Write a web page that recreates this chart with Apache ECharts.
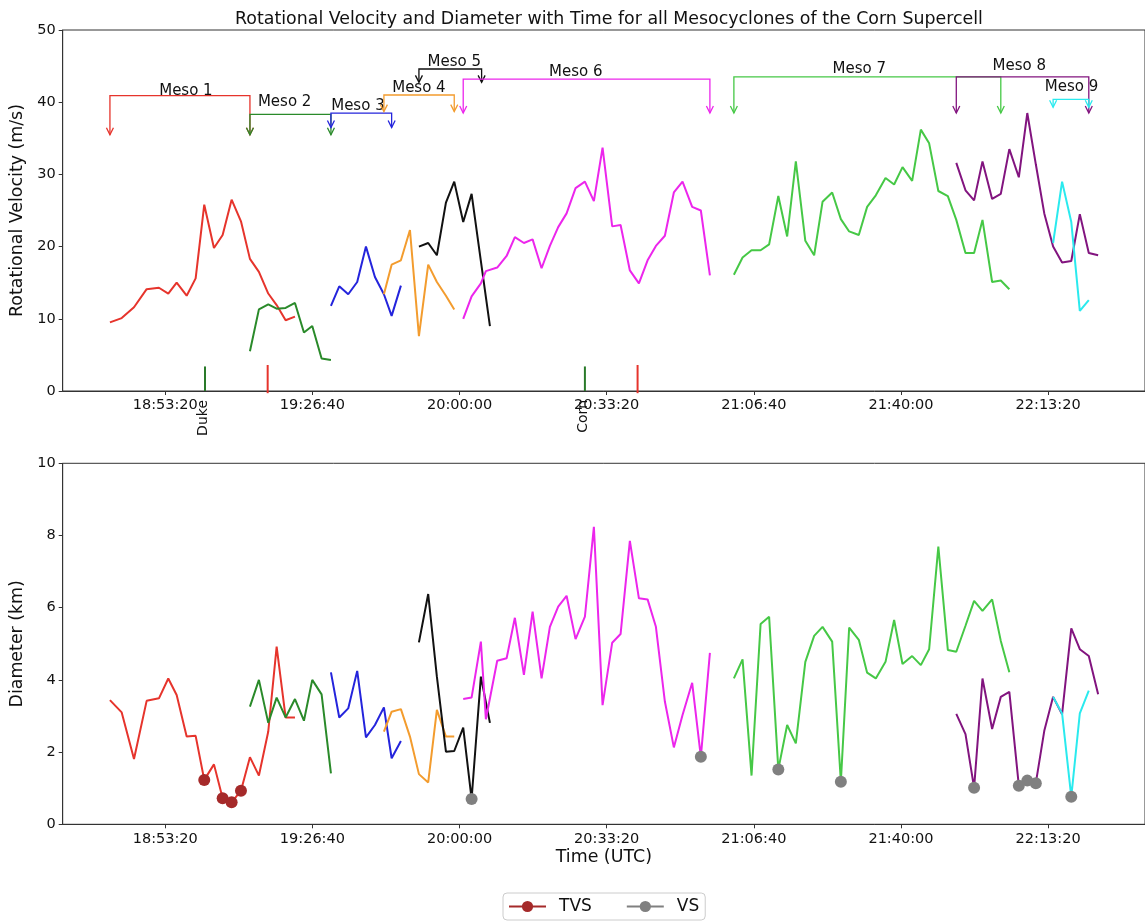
<!DOCTYPE html>
<html>
<head>
<meta charset="utf-8">
<script src="https://cdn.jsdelivr.net/npm/echarts@6/dist/echarts.min.js"></script>
<style>
html,body{margin:0;padding:0;background:#fff;}
#chart{width:1145px;height:922px;}
</style>
</head>
<body>
<div id="chart"></div>
<script>
// ---------------- DATA ----------------
const xTickLabels = ['18:53:20','19:26:40','20:00:00','20:33:20','21:06:40','21:40:00','22:13:20'];
const xRange = ['18:30:06','22:35:17'];

const mesoNames = ['Meso 1','Meso 2','Meso 3','Meso 4','Meso 5','Meso 6','Meso 7','Meso 8','Meso 9'];

const meso1Time = ['18:40:48','18:43:28','18:46:15','18:49:07','18:51:54','18:54:01','18:55:55','18:58:11','19:00:13','19:02:10','19:04:22','19:06:20','19:08:22','19:10:29','19:12:31','19:14:33','19:16:40','19:18:34','19:20:36','19:22:43'];
const meso1Vrot = [9.5,10.1,11.6,14.1,14.3,13.5,15.0,13.2,15.6,25.8,19.8,21.6,26.5,23.5,18.3,16.5,13.5,11.9,9.8,10.3];
const meso1Diam = [3.44,3.10,1.81,3.42,3.49,4.04,3.58,2.43,2.45,1.23,1.66,0.72,0.61,0.93,1.86,1.35,2.57,4.92,2.96,2.96];

const meso2Time = ['19:12:31','19:14:33','19:16:40','19:18:34','19:20:36','19:22:43','19:24:45','19:26:38','19:28:45','19:30:52'];
const meso2Vrot = [5.5,11.3,12.0,11.4,11.5,12.2,8.1,9.0,4.5,4.3];
const meso2Diam = [3.26,4.00,2.81,3.51,2.96,3.47,2.87,4.00,3.60,1.41];

const meso3Time = ['19:30:52','19:32:45','19:34:47','19:36:49','19:38:48','19:40:50','19:42:52','19:44:37','19:46:43'];
const meso3Vrot = [11.8,14.5,13.4,15.1,20.0,15.8,13.4,10.4,14.6];
const meso3Diam = [4.21,2.96,3.21,4.25,2.41,2.75,3.24,1.83,2.31];

const meso4Time = ['19:42:52','19:44:37','19:46:43','19:48:46','19:50:48','19:52:54','19:54:52','19:56:55','19:58:48'];
const meso4Vrot = [13.4,17.5,18.1,22.3,7.6,17.5,15.1,13.2,11.3];
const meso4Diam = [2.57,3.12,3.19,2.43,1.39,1.16,3.17,2.43,2.43];

const meso5Time = ['19:50:48','19:52:54','19:54:52','19:56:55','19:58:48','20:00:50','20:02:44','20:04:50','20:06:53'];
const meso5Vrot = [20.0,20.5,18.8,26.1,29.0,23.4,27.3,18.0,9.0];
const meso5Diam = [5.04,6.38,4.09,2.01,2.03,2.68,0.70,4.09,2.81];

const meso6Time = ['20:00:50','20:02:44','20:04:50','20:05:58','20:08:32','20:10:40','20:12:32','20:14:35','20:16:33','20:18:35','20:20:28','20:22:21','20:24:15','20:26:17','20:28:24','20:30:26','20:32:24','20:34:35','20:36:29','20:38:35','20:40:38','20:42:36','20:44:29','20:46:31','20:48:33','20:50:31','20:52:42','20:54:40','20:56:43'];
const meso6Vrot = [10.0,13.1,14.9,16.6,17.1,18.7,21.3,20.5,21.0,17.0,20.1,22.7,24.6,28.1,29.0,26.3,33.7,22.8,23.0,16.7,14.9,18.1,20.1,21.5,27.5,29.0,25.5,25.0,16.0];
const meso6Diam = [3.47,3.51,5.06,2.91,4.53,4.60,5.72,4.14,5.89,4.04,5.47,6.03,6.33,5.13,5.75,8.24,3.30,5.03,5.27,7.85,6.26,6.23,5.47,3.40,2.13,3.03,3.92,1.87,4.75];

const meso7Time = ['21:02:09','21:04:07','21:06:09','21:08:12','21:10:08','21:12:13','21:14:13','21:16:11','21:18:20','21:20:20','21:22:14','21:24:25','21:26:23','21:28:16','21:30:27','21:32:20','21:34:18','21:36:30','21:38:27','21:40:21','21:42:32','21:44:30','21:46:23','21:48:28','21:50:37','21:52:32','21:54:37','21:56:34','21:58:28','22:00:39','22:02:37','22:04:33'];
const meso7Vrot = [16.1,18.5,19.5,19.5,20.3,27.0,21.4,31.8,20.8,18.8,26.2,27.5,23.8,22.1,21.6,25.5,27.1,29.5,28.6,31.0,29.1,36.2,34.3,27.7,27.0,23.7,19.1,19.1,23.7,15.1,15.3,14.1];
const meso7Diam = [4.04,4.57,1.35,5.55,5.75,1.52,2.75,2.24,4.50,5.22,5.47,5.06,1.18,5.45,5.11,4.20,4.04,4.50,5.66,4.44,4.66,4.41,4.85,7.69,4.83,4.78,5.50,6.19,5.91,6.23,5.08,4.21];

const meso8Time = ['21:52:32','21:54:37','21:56:34','21:58:28','22:00:39','22:02:37','22:04:33','22:06:42','22:08:37','22:10:33','22:12:28','22:14:28','22:16:30','22:18:35','22:20:31','22:22:33','22:24:40'];
const meso8Vrot = [31.6,27.8,26.4,31.8,26.6,27.3,33.5,29.6,38.5,31.4,24.6,20.0,17.8,18.0,24.5,19.1,18.8];
const meso8Diam = [3.06,2.50,1.01,4.04,2.64,3.53,3.67,1.07,1.21,1.14,2.59,3.53,3.05,5.43,4.85,4.66,3.60];

const meso9Time = ['22:14:28','22:16:30','22:18:35','22:20:31','22:22:33'];
const meso9Vrot = [20.5,29.0,23.4,11.1,12.6];
const meso9Diam = [3.53,3.07,0.76,3.07,3.70];

// TVS / VS detections (diameter panel)
const tvsTime = ['19:02:10','19:06:20','19:08:22','19:10:29'];
const tvsDiam = [1.23,0.72,0.61,0.93];
const vsTime = ['20:02:44','20:54:40','21:12:13','21:26:23','21:56:34','22:06:42','22:08:37','22:10:33','22:18:35'];
const vsDiam = [0.70,1.87,1.52,1.18,1.01,1.07,1.21,1.14,0.76];

// Meso lifetime brackets (top panel annotation)
const bracketStart = ['18:40:48','19:12:31','19:30:52','19:42:52','19:50:48','20:00:50','21:02:09','21:52:32','22:14:28'];
const bracketEnd   = ['19:12:31','19:30:52','19:44:37','19:58:48','20:05:00','20:56:43','22:02:37','22:22:33','22:22:33'];
const bracketTip   = [35.5,35.5,36.5,38.7,42.75,38.5,38.5,38.5,39.3];
const bracketBar   = [40.9,38.3,38.5,41.0,44.6,43.2,43.5,43.5,40.4];
const labelTime    = ['18:58:01','19:20:23','19:36:59','19:50:48','19:58:48','20:26:21','21:30:34','22:06:49','22:18:38'];
const labelVal     = [41.55,40.07,39.47,42.0,45.6,44.14,44.6,45.06,42.06];

// Event markers (top panel, bottom edge)
const eventTime  = ['19:02:20','19:16:32','20:28:24','20:40:20'];
const eventTop   = [3.4,3.6,3.4,3.6];
const eventBot   = [0,-0.3,0,-0.3];
const eventLabel = ['Duke','','Corn',''];
const eventKind  = [0,1,0,1];

// ---------------- STYLE ----------------
const mesoColors = ['#e6342c','#2a8a2a','#2424dc','#f39c2e','#111111','#ec26ec','#46c846','#82147f','#2aeaee'];
const eventColors = ['#2a7a2a','#e6342c'];
const FONT = 'DejaVu Sans';

const secs = t => { const p = t.split(':').map(Number); return p[0]*3600 + p[1]*60 + p[2]; };
const clock = v => { v = Math.round(v); const h = Math.floor(v/3600), m = Math.floor(v%3600/60), s = v%60;
  return [h,m,s].map(n => String(n).padStart(2,'0')).join(':'); };
const zip = (ts, vs) => ts.map((t,i) => [secs(t), vs[i]]);

const mesos = [
  [meso1Time, meso1Vrot, meso1Diam],[meso2Time, meso2Vrot, meso2Diam],[meso3Time, meso3Vrot, meso3Diam],
  [meso4Time, meso4Vrot, meso4Diam],[meso5Time, meso5Vrot, meso5Diam],[meso6Time, meso6Vrot, meso6Diam],
  [meso7Time, meso7Vrot, meso7Diam],[meso8Time, meso8Vrot, meso8Diam],[meso9Time, meso9Vrot, meso9Diam]
];

const tickVals = xTickLabels.map(secs);
const GL = 62.7, GW = 1082.5;

function xAxisCfg(idx, withName) {
  return {
    type: 'value', gridIndex: idx, min: secs(xRange[0]), max: secs(xRange[1]),
    axisLine: { show: true, lineStyle: { color: '#333', width: 1 } },
    axisTick: { show: true, length: 4, customValues: tickVals, lineStyle: { color: '#333' } },
    axisLabel: { customValues: tickVals, formatter: clock, color: '#111', fontSize: 14.5, fontFamily: FONT, margin: 7 },
    splitLine: { show: false },
    name: withName ? 'Time (UTC)' : '', nameLocation: 'middle', nameGap: 25,
    nameTextStyle: { fontSize: 17.4, fontFamily: FONT, color: '#111' }
  };
}
function yAxisCfg(idx, max, interval, name, gap) {
  return {
    type: 'value', gridIndex: idx, min: 0, max: max, interval: interval,
    axisLine: { show: true, lineStyle: { color: '#333', width: 1 } },
    axisTick: { show: true, length: 4, lineStyle: { color: '#333' } },
    axisLabel: { color: '#111', fontSize: 14.5, fontFamily: FONT, margin: 7 },
    splitLine: { show: false },
    name: name, nameLocation: 'middle', nameGap: gap,
    nameTextStyle: { fontSize: 17.4, fontFamily: FONT, color: '#111' }
  };
}

const series = [];
mesos.forEach((m, i) => {
  series.push({ name: mesoNames[i] + ' Vrot', type: 'line', xAxisIndex: 0, yAxisIndex: 0, data: zip(m[0], m[1]),
    symbol: 'none', lineStyle: { color: mesoColors[i], width: 2 }, z: 3 });
  series.push({ name: mesoNames[i] + ' Diam', type: 'line', xAxisIndex: 1, yAxisIndex: 1, data: zip(m[0], m[2]),
    symbol: 'none', lineStyle: { color: mesoColors[i], width: 2 }, z: 3 });
});

// brackets with arrows & labels
series.push({
  type: 'custom', xAxisIndex: 0, yAxisIndex: 0, z: 5, silent: true,
  data: bracketStart.map((s, i) => [secs(s), secs(bracketEnd[i]), bracketTip[i], bracketBar[i], i, secs(labelTime[i]), labelVal[i]]),
  encode: { x: [0, 1, 5], y: [2, 3, 6] },
  renderItem: function (params, api) {
    const i = api.value(4);
    const a = api.coord([api.value(0), api.value(2)]);
    const b = api.coord([api.value(0), api.value(3)]);
    const c = api.coord([api.value(1), api.value(3)]);
    const d = api.coord([api.value(1), api.value(2)]);
    const lp = api.coord([api.value(5), api.value(6)]);
    const col = mesoColors[i];
    const st = { stroke: col, lineWidth: 1.3, fill: null };
    const head = p => ({ type: 'polyline', shape: { points: [[p[0]-3.5, p[1]-7], p, [p[0]+3.5, p[1]-7]] }, style: st });
    return { type: 'group', children: [
      { type: 'polyline', shape: { points: [a, b, c, d] }, style: st },
      head(a), head(d),
      { type: 'text', x: lp[0], y: lp[1], style: { text: mesoNames[i], align: 'center', verticalAlign: 'middle',
        font: '15px "DejaVu Sans"', fill: '#111' } }
    ]};
  }
});

// event tick marks with labels
series.push({
  type: 'custom', xAxisIndex: 0, yAxisIndex: 0, z: 4, silent: true, clip: false,
  data: eventTime.map((t, i) => [secs(t), eventBot[i], eventTop[i], i]),
  encode: { x: 0, y: [1, 2] },
  renderItem: function (params, api) {
    const i = api.value(3);
    const p0 = api.coord([api.value(0), api.value(1)]);
    const p1 = api.coord([api.value(0), api.value(2)]);
    const base = api.coord([api.value(0), 0]);
    const ch = [{ type: 'line', shape: { x1: p0[0], y1: p0[1], x2: p1[0], y2: p1[1] },
      style: { stroke: eventColors[eventKind[i]], lineWidth: 2 } }];
    if (eventLabel[i]) {
      ch.push({ type: 'text', x: base[0] - 1.5, y: base[1] + 9, rotation: Math.PI / 2,
        style: { text: eventLabel[i], align: 'right', verticalAlign: 'middle', font: '14px "DejaVu Sans"', fill: '#111' } });
    }
    return { type: 'group', children: ch };
  }
});

// TVS / VS markers
series.push({ name: 'TVS pts', type: 'scatter', xAxisIndex: 1, yAxisIndex: 1, data: zip(tvsTime, tvsDiam),
  symbol: 'circle', symbolSize: 12, itemStyle: { color: '#a52a2a', opacity: 1 }, z: 6 });
series.push({ name: 'VS pts', type: 'scatter', xAxisIndex: 1, yAxisIndex: 1, data: zip(vsTime, vsDiam),
  symbol: 'circle', symbolSize: 12, itemStyle: { color: '#808080', opacity: 1 }, z: 6 });
// legend proxies
series.push({ name: 'TVS', type: 'line', xAxisIndex: 1, yAxisIndex: 1, data: [], symbol: 'circle', symbolSize: 11,
  itemStyle: { color: '#a52a2a' }, lineStyle: { color: '#a52a2a', width: 1.5 } });
series.push({ name: 'VS', type: 'line', xAxisIndex: 1, yAxisIndex: 1, data: [], symbol: 'circle', symbolSize: 11,
  itemStyle: { color: '#808080' }, lineStyle: { color: '#808080', width: 1.5 } });

const chart = echarts.init(document.getElementById('chart'), null, { renderer: 'canvas' });
chart.setOption({
  animation: false,
  backgroundColor: '#ffffff',
  textStyle: { fontFamily: FONT },
  title: { text: 'Rotational Velocity and Diameter with Time for all Mesocyclones of the Corn Supercell',
    left: GL + GW / 2, textAlign: 'center', top: 6,
    textStyle: { fontSize: 17.4, fontWeight: 'normal', fontFamily: FONT, color: '#111' } },
  grid: [
    { left: GL, width: GW, top: 30, height: 361, show: true, borderColor: '#333', borderWidth: 1, backgroundColor: 'transparent' },
    { left: GL, width: GW, top: 463.3, height: 361, show: true, borderColor: '#333', borderWidth: 1, backgroundColor: 'transparent' }
  ],
  xAxis: [xAxisCfg(0, false), xAxisCfg(1, true)],
  yAxis: [yAxisCfg(0, 50, 10, 'Rotational Velocity (m/s)', 35), yAxisCfg(1, 10, 2, 'Diameter (km)', 35)],
  legend: {
    data: ['TVS', 'VS'], left: 503, top: 893, orient: 'horizontal',
    itemWidth: 37, itemHeight: 14, itemGap: 34, padding: [5, 6, 5, 5],
    borderColor: '#cccccc', borderWidth: 1, borderRadius: 4,
    textStyle: { fontSize: 17, fontFamily: FONT, color: '#111', padding: [0, 0, 0, 8] }
  },
  series: series
});
</script>
</body>
</html>
